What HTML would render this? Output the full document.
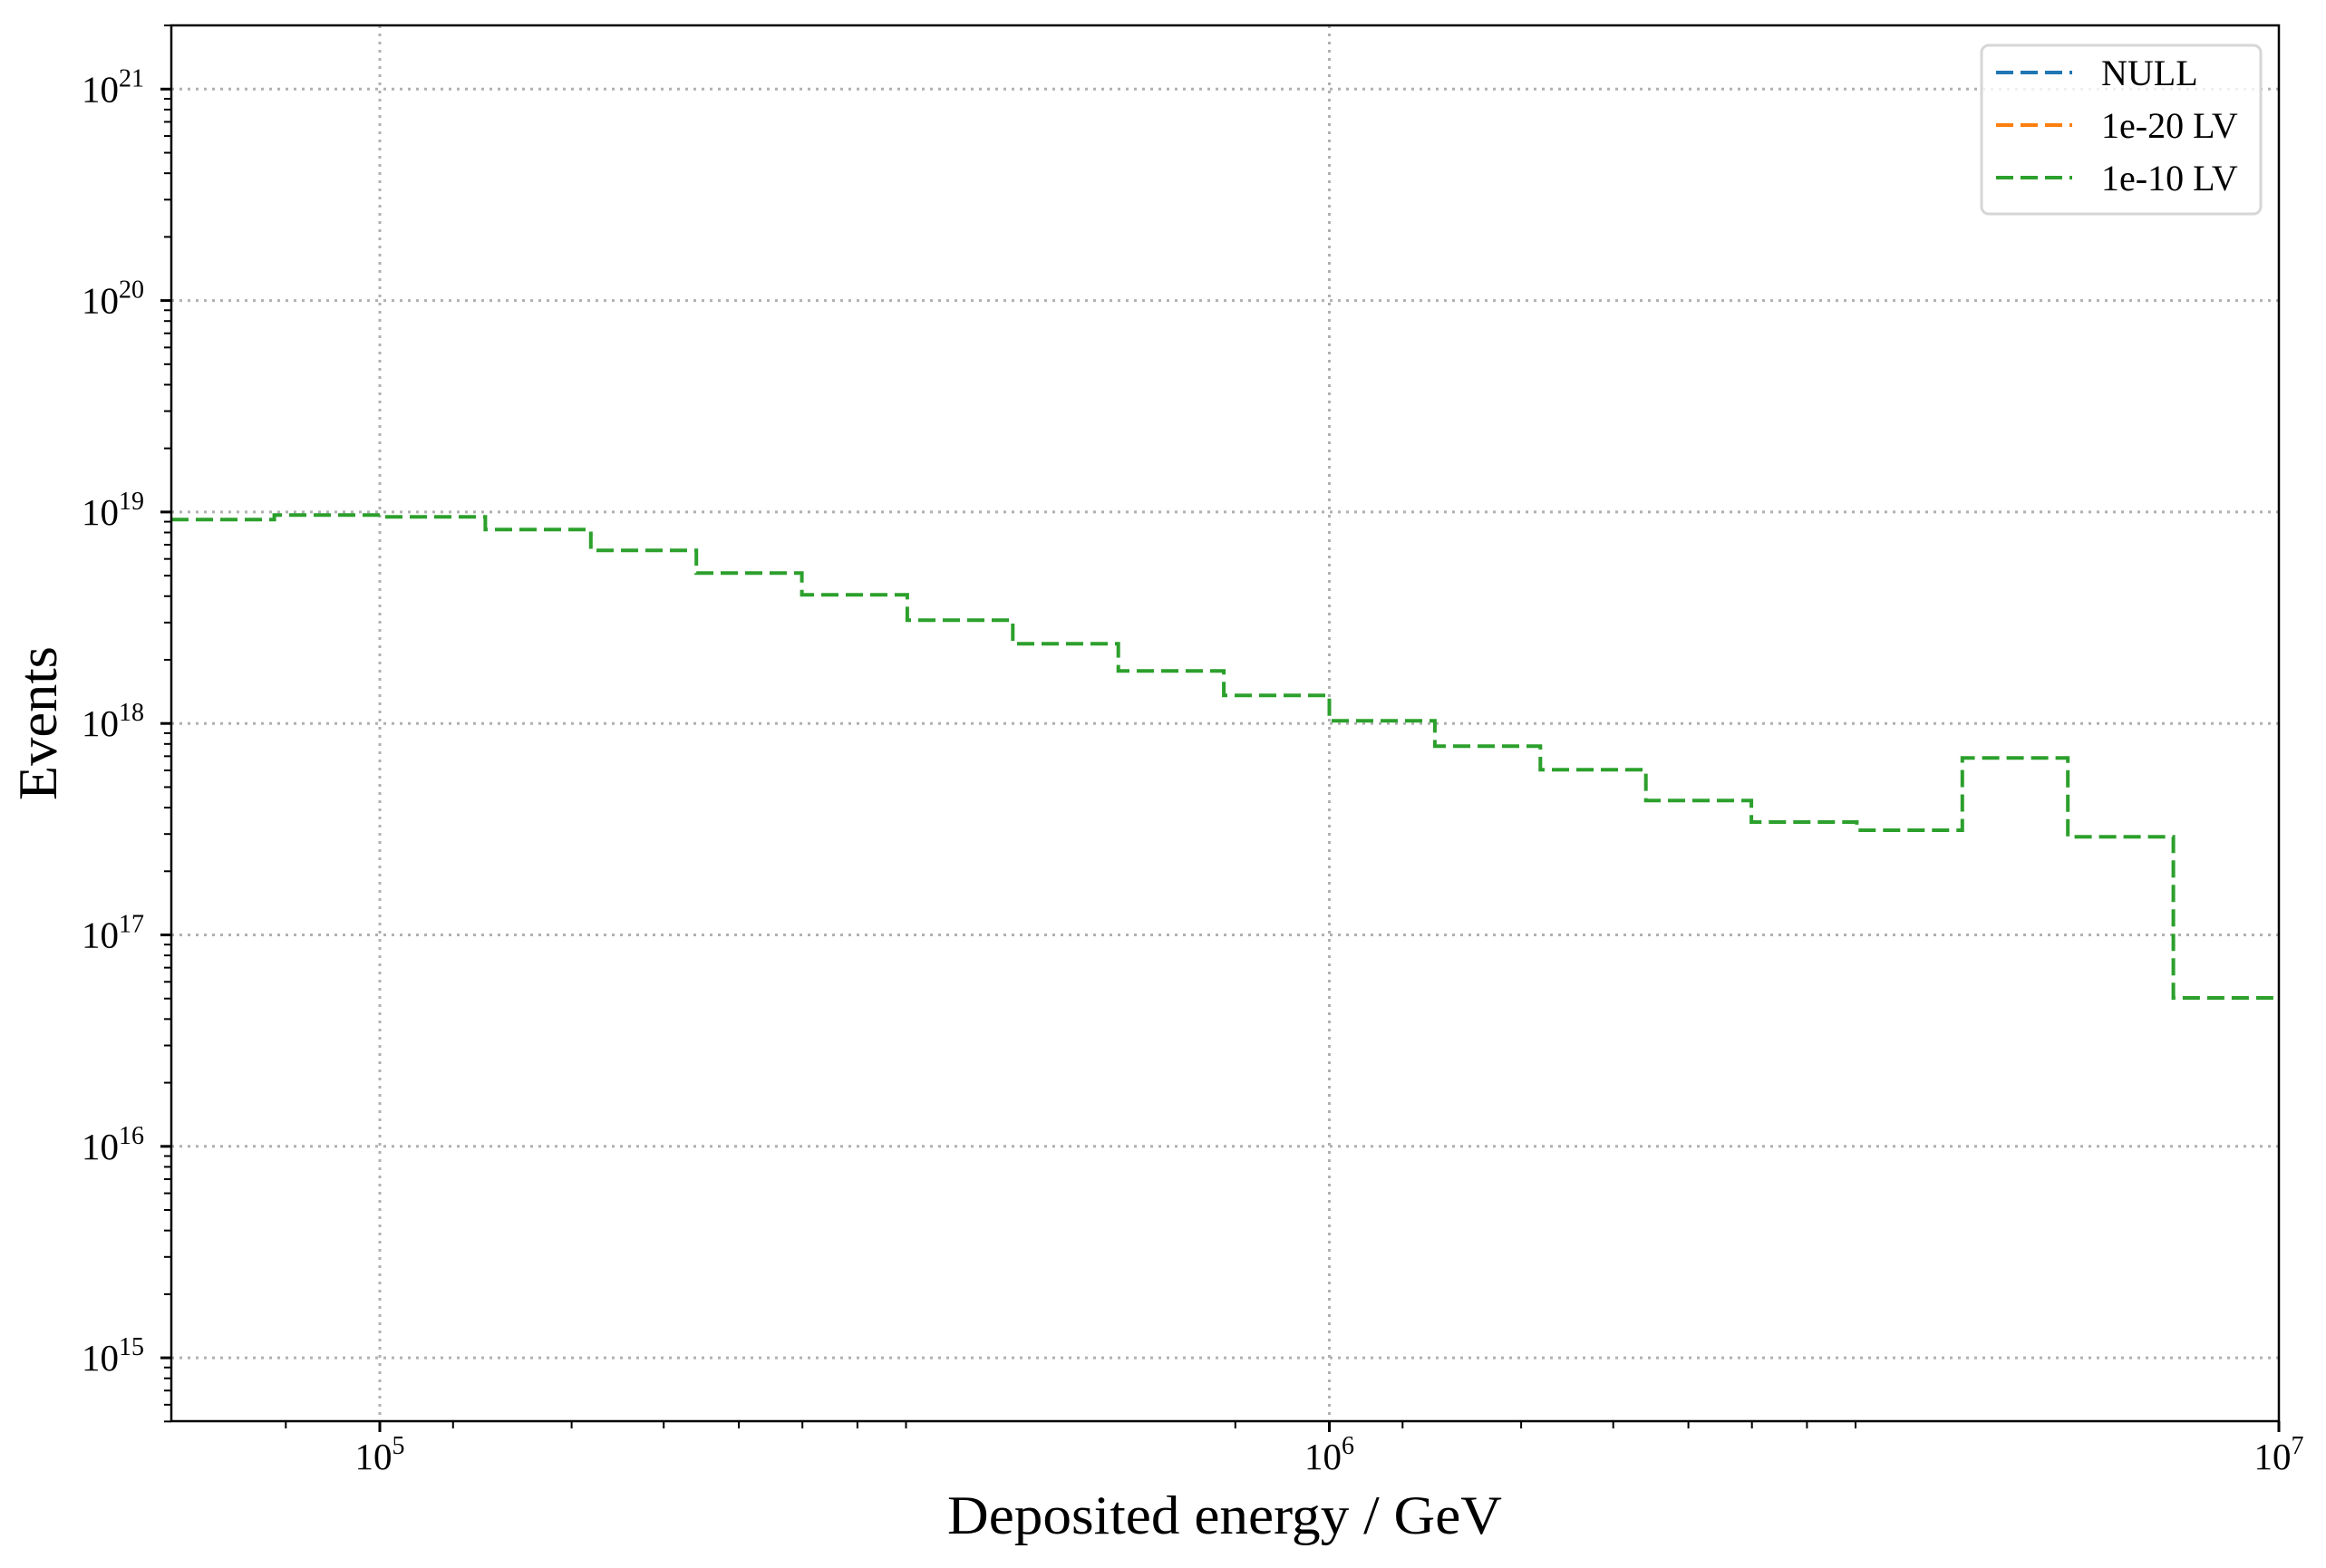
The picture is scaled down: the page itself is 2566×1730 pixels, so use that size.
<!DOCTYPE html>
<html><head><meta charset="utf-8"><style>
html,body{margin:0;padding:0;background:#fff;}
svg{display:block;}
text{font-family:"Liberation Serif",serif;fill:#000;}
</style></head><body>
<svg width="2566" height="1730" viewBox="0 0 2566 1730" xmlns="http://www.w3.org/2000/svg">
<defs>
<clipPath id="ca"><rect x="189" y="28" width="2325" height="1540"/></clipPath>
<clipPath id="cy"><rect x="150" y="27" width="40" height="1543"/></clipPath>
<clipPath id="cx"><rect x="188" y="1560" width="2328" height="30"/></clipPath>
<g id="ym" stroke="#000" stroke-width="2">
<line x1="181" x2="189" y1="-70.23" y2="-70.23"/><line x1="181" x2="189" y1="-111.31" y2="-111.31"/>
<line x1="181" x2="189" y1="-140.45" y2="-140.45"/><line x1="181" x2="189" y1="-163.07" y2="-163.07"/>
<line x1="181" x2="189" y1="-181.54" y2="-181.54"/><line x1="181" x2="189" y1="-197.16" y2="-197.16"/>
<line x1="181" x2="189" y1="-210.69" y2="-210.69"/><line x1="181" x2="189" y1="-222.62" y2="-222.62"/>
</g>
<g id="xm" stroke="#000" stroke-width="2">
<line y1="1568" y2="1576" x1="315.3" x2="315.3"/><line y1="1568" y2="1576" x1="499.8" x2="499.8"/>
<line y1="1568" y2="1576" x1="630.6" x2="630.6"/><line y1="1568" y2="1576" x1="732.2" x2="732.2"/>
<line y1="1568" y2="1576" x1="815.1" x2="815.1"/><line y1="1568" y2="1576" x1="885.2" x2="885.2"/>
<line y1="1568" y2="1576" x1="945.9" x2="945.9"/><line y1="1568" y2="1576" x1="999.5" x2="999.5"/>
</g>
</defs>
<!-- grid -->
<g stroke="#b0b0b0" stroke-width="3" stroke-dasharray="3,6" fill="none">
<line x1="189" x2="2514" y1="98.3" y2="98.3"/>
<line x1="189" x2="2514" y1="331.6" y2="331.6"/>
<line x1="189" x2="2514" y1="564.9" y2="564.9"/>
<line x1="189" x2="2514" y1="798.2" y2="798.2"/>
<line x1="189" x2="2514" y1="1031.5" y2="1031.5"/>
<line x1="189" x2="2514" y1="1264.8" y2="1264.8"/>
<line x1="189" x2="2514" y1="1498.1" y2="1498.1"/>
<line x1="419" x2="419" y1="28" y2="1568"/>
<line x1="1466.5" x2="1466.5" y1="28" y2="1568"/>
</g>
<!-- data -->
<g clip-path="url(#ca)">
<path d="M189,573.3 H302.6 V568.3 H419 V570.3 H535.4 V584.3 H651.8 V607.3 H768.2 V632.3 H884.6 V656.3 H1000.9 V684.3 H1117.3 V710.3 H1233.7 V740.3 H1350.1 V767.3 H1466.5 V795.3 H1582.9 V823.3 H1699.3 V849.3 H1815.7 V883.3 H1932.1 V907 H2048.4 V916 H2164.8 V836.3 H2281.2 V923.3 H2397.6 V1101 H2514" fill="none" stroke="#2ca02c" stroke-width="4" stroke-dasharray="19,8"/>
</g>
<!-- minor ticks -->
<g clip-path="url(#cy)">
<use href="#ym" y="1731.4"/><use href="#ym" y="1498.1"/><use href="#ym" y="1264.8"/><use href="#ym" y="1031.5"/>
<use href="#ym" y="798.2"/><use href="#ym" y="564.9"/><use href="#ym" y="331.6"/><use href="#ym" y="98.3"/>
</g>
<g clip-path="url(#cx)">
<use href="#xm" x="-1047.5"/><use href="#xm" x="0"/><use href="#xm" x="1047.5"/>
</g>
<!-- major ticks -->
<g stroke="#000" stroke-width="3">
<line x1="177" x2="189" y1="98.3" y2="98.3"/>
<line x1="177" x2="189" y1="331.6" y2="331.6"/>
<line x1="177" x2="189" y1="564.9" y2="564.9"/>
<line x1="177" x2="189" y1="798.2" y2="798.2"/>
<line x1="177" x2="189" y1="1031.5" y2="1031.5"/>
<line x1="177" x2="189" y1="1264.8" y2="1264.8"/>
<line x1="177" x2="189" y1="1498.1" y2="1498.1"/>
<line y1="1568" y2="1580" x1="419" x2="419"/>
<line y1="1568" y2="1580" x1="1466.5" x2="1466.5"/>
<line y1="1568" y2="1580" x1="2514" x2="2514"/>
</g>
<!-- frame -->
<rect x="189" y="28" width="2325" height="1540" fill="none" stroke="#000" stroke-width="2.5"/>
<!-- y tick labels -->
<g font-size="41" text-anchor="end">
<text x="159" y="112.3">10<tspan font-size="28" dy="-17">21</tspan></text>
<text x="159" y="345.6">10<tspan font-size="28" dy="-17">20</tspan></text>
<text x="159" y="578.9">10<tspan font-size="28" dy="-17">19</tspan></text>
<text x="159" y="812.2">10<tspan font-size="28" dy="-17">18</tspan></text>
<text x="159" y="1045.5">10<tspan font-size="28" dy="-17">17</tspan></text>
<text x="159" y="1278.8">10<tspan font-size="28" dy="-17">16</tspan></text>
<text x="159" y="1512.1">10<tspan font-size="28" dy="-17">15</tspan></text>
</g>
<!-- x tick labels -->
<g font-size="41" text-anchor="middle">
<text x="419" y="1621">10<tspan font-size="28" dy="-17">5</tspan></text>
<text x="1466.5" y="1621">10<tspan font-size="28" dy="-17">6</tspan></text>
<text x="2514" y="1621">10<tspan font-size="28" dy="-17">7</tspan></text>
</g>
<!-- axis labels -->
<text x="1351" y="1692" font-size="60" text-anchor="middle" textLength="612" lengthAdjust="spacingAndGlyphs">Deposited energy / GeV</text>
<text transform="translate(62,798) rotate(-90)" font-size="60" text-anchor="middle" textLength="170" lengthAdjust="spacingAndGlyphs">Events</text>
<!-- legend -->
<rect x="2186" y="50" width="308" height="186" rx="8" ry="8" fill="#fff" fill-opacity="0.8" stroke="#d6d6d6" stroke-width="3"/>
<g stroke-width="4" stroke-dasharray="19,8">
<line x1="2202" x2="2286" y1="80" y2="80" stroke="#1f77b4"/>
<line x1="2202" x2="2286" y1="138" y2="138" stroke="#ff7f0e"/>
<line x1="2202" x2="2286" y1="196" y2="196" stroke="#2ca02c"/>
</g>
<g font-size="40">
<text x="2318" y="94">NULL</text>
<text x="2318" y="152">1e-20 LV</text>
<text x="2318" y="210">1e-10 LV</text>
</g>
</svg>
</body></html>
